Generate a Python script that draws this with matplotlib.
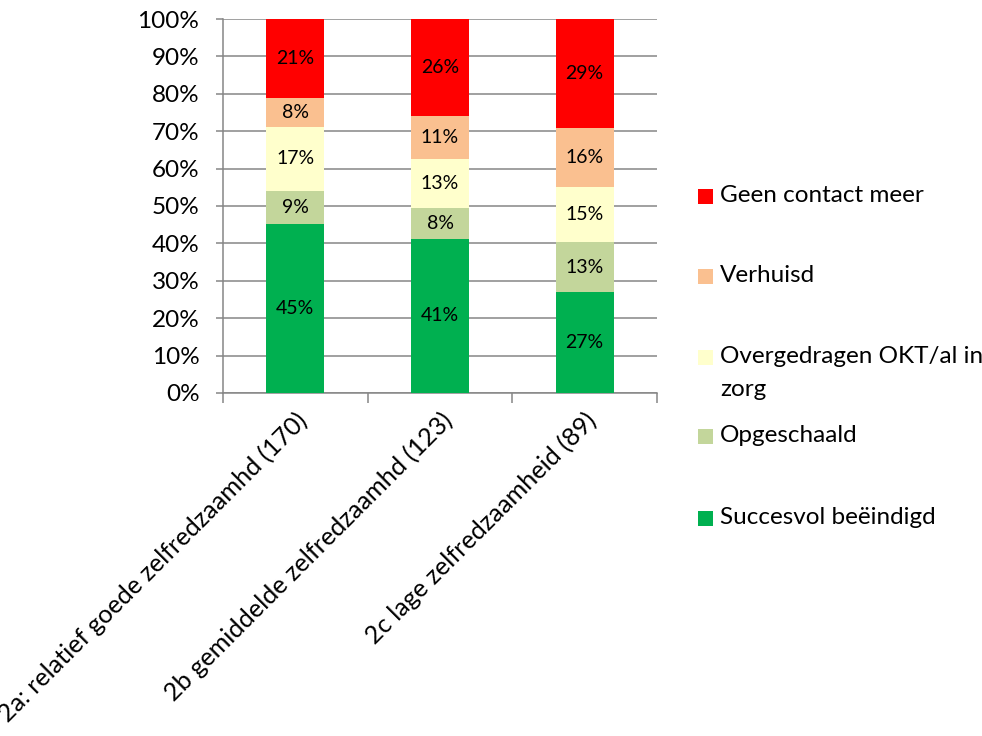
import matplotlib
matplotlib.use("Agg")
import matplotlib.pyplot as plt
from matplotlib.patches import Rectangle

plt.rcParams['font.family'] = ['Lato', 'DejaVu Sans']

categories = ["2a: relatief goede zelfredzaamhd (170)",
              "2b gemiddelde zelfredzaamhd (123)",
              "2c lage zelfredzaamheid (89)"]
series_names = ["Succesvol beëindigd", "Opgeschaald",
                "Overgedragen OKT/al in\nzorg", "Verhuisd", "Geen contact meer"]
succesvol = [45.3, 41.3, 26.9]
opgeschaald = [8.8, 8.2, 13.4]
overgedragen = [17.0, 13.1, 14.7]
verhuisd = [7.8, 11.4, 15.8]
geen_contact = [21.1, 26.0, 29.2]
yticks = [0, 10, 20, 30, 40, 50, 60, 70, 80, 90, 100]

series = [succesvol, opgeschaald, overgedragen, verhuisd, geen_contact]
colors = ["#00B050", "#C3D69B", "#FFFFCC", "#FAC090", "#FF0000"]

W, H = 982, 736
fig = plt.figure(figsize=(W / 100, H / 100), dpi=100)
ax = fig.add_axes([223 / W, 1 - 393 / H, 434 / W, 374 / H])

x = list(range(len(categories)))
bottom = [0.0] * len(categories)
for vals, col in zip(series, colors):
    ax.bar(x, vals, width=0.4, bottom=bottom, color=col, zorder=3)
    for xi, v, b in zip(x, vals, bottom):
        ax.text(xi, b + v / 2, f"{round(v)}%", ha='center', va='center',
                fontsize=14, color='black', zorder=4)
    bottom = [b + v for b, v in zip(bottom, vals)]

ax.set_xlim(-0.5, len(categories) - 0.5)
ax.set_ylim(0, 100)
ax.set_yticks(yticks)
ax.set_yticklabels([f"{t}%" for t in yticks], fontsize=17.5)
ax.yaxis.grid(True, color="#868686", lw=1.1, zorder=0)
ax.set_axisbelow(True)
for s in ['top', 'right']:
    ax.spines[s].set_visible(False)
for s in ['left', 'bottom']:
    ax.spines[s].set_color("#868686")
    ax.spines[s].set_linewidth(1.1)
ax.tick_params(axis='y', length=5, color="#868686", pad=12, width=1.1)

ax.set_xticks(x)
ax.set_xticklabels(categories, rotation=45, ha='right', rotation_mode='anchor',
                   fontsize=18.2)
ax.tick_params(axis='x', which='major', length=0, pad=11)
ax.set_xticks([i - 0.5 for i in range(len(categories) + 1)], minor=True)
ax.tick_params(axis='x', which='minor', length=7, color="#868686", width=1.1,
               direction='out')

# legend (drawn top to bottom: reversed series order)
leg_y = [196, 276, 357, 436, 518]
for name, col, yy in zip(series_names[::-1], colors[::-1], leg_y):
    fig.patches.append(Rectangle((698 / W, 1 - (yy + 7.5) / H), 15 / W, 15 / H,
                                 transform=fig.transFigure, facecolor=col,
                                 edgecolor='none'))
    if '\n' in name:
        fig.text(720 / W, 1 - (yy - 11) / H, name, ha='left', va='top',
                 fontsize=17.5, linespacing=1.72)
    else:
        fig.text(720 / W, 1 - yy / H, name, ha='left', va='center',
                 fontsize=17.5)

fig.savefig("out.png", dpi=100)
